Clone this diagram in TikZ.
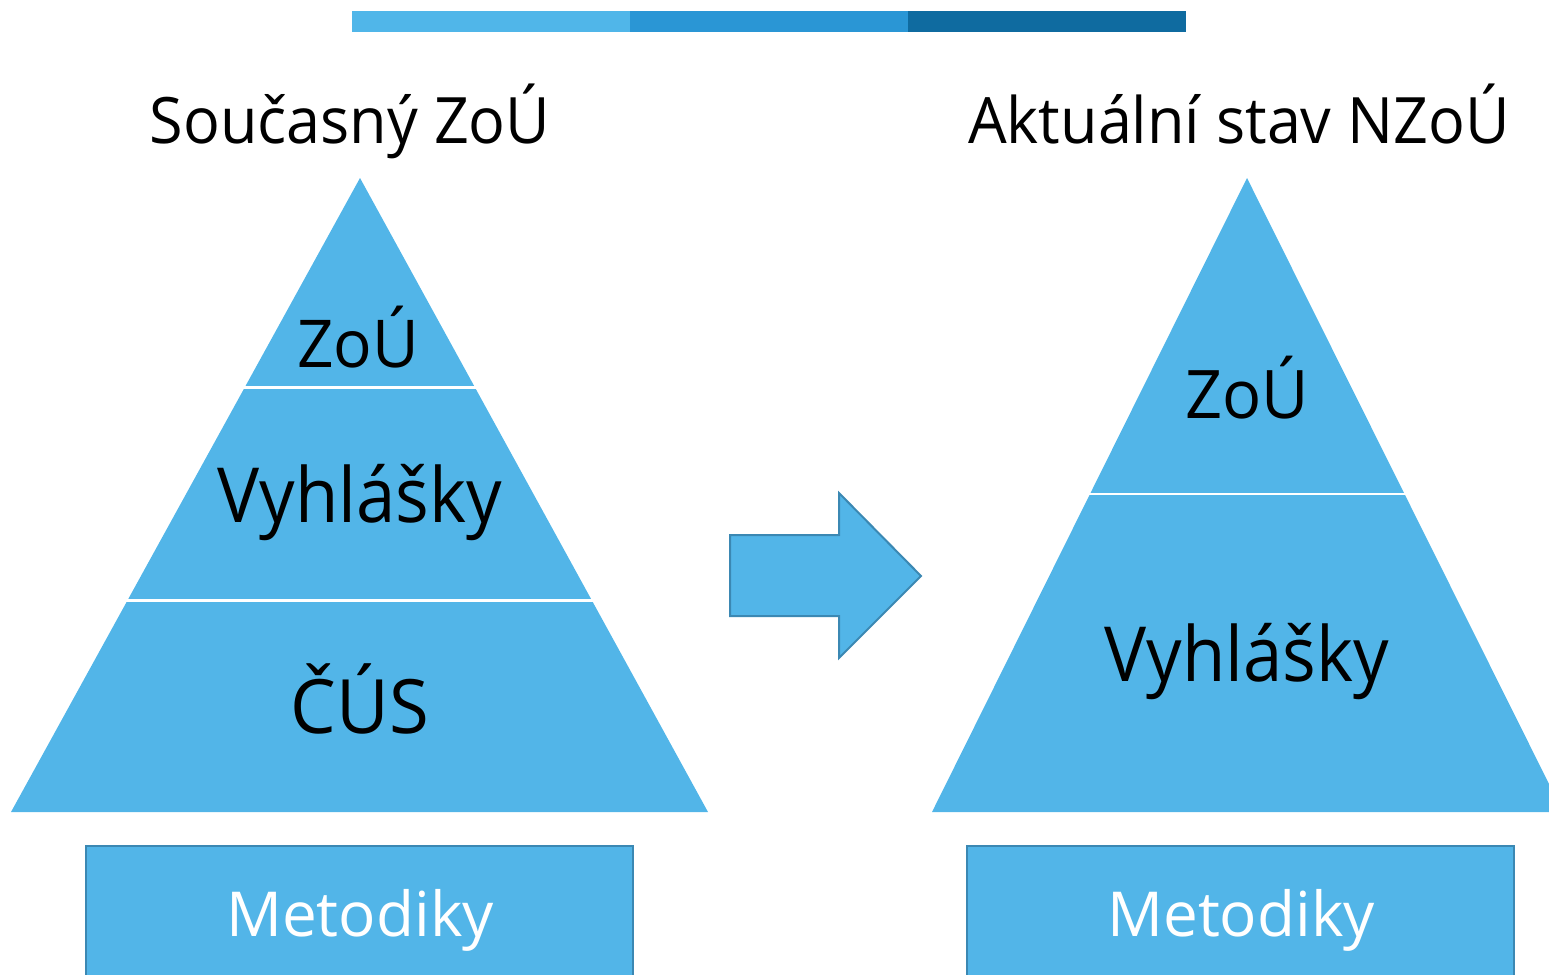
\documentclass[tikz,border=0pt]{standalone}
\usepackage{fontspec}
\setmainfont{Open Sans}
\definecolor{pyr}{HTML}{52B5E8}
\definecolor{barA}{HTML}{50B6E9}
\definecolor{barB}{HTML}{2A96D5}
\definecolor{barC}{HTML}{0F6BA0}
\definecolor{edge}{HTML}{3B88B3}
\tikzset{
  layer/.style={fill=pyr, draw=none},
  gap/.style={draw=white, line width=2.5pt},
  lbl/.style={anchor=base, inner sep=0pt, text=black},
  boxlbl/.style={anchor=base, inner sep=0pt, text=white},
  methbox/.style={fill=pyr, draw=edge, line width=2pt},
  bigarrow/.style={fill=pyr, draw=edge, line width=2pt, line join=miter},
}
\newcommand{\fsz}[1]{\fontsize{#1pt}{#1pt}\selectfont}
\newcommand{\sx}[2]{\scalebox{#1}[1]{#2}}
\begin{document}
\begin{tikzpicture}[x=1pt,y=-1pt]
\useasboundingbox (0,0) rectangle (1549,974);
\clip (0,0) rectangle (1549,974);
% top bar
\fill[barA] (352,11) rectangle (630,32);
\fill[barB] (630,11) rectangle (908,32);
\fill[barC] (908,11) rectangle (1186,32);
% titles
\node[lbl] (t1) at (350,143) {\fsz{64}\sx{0.955}{Současný ZoÚ}};
\node[lbl] (t2) at (1239,143) {\fsz{64}\sx{0.955}{Aktuální stav NZoÚ}};
% left pyramid
\fill[layer] (360,178) -- (708,812) -- (11,812) -- cycle;
\draw[gap] (240,387.5) -- (480,387.5);
\draw[gap] (120,600.5) -- (600,600.5);
\node[lbl] (l1) at (358,367) {\fsz{66}\sx{0.97}{ZoÚ}};
\node[lbl] (l2) at (360,522) {\fsz{76}\sx{0.93}{Vyhlášky}};
\node[lbl] (l3) at (360,733) {\fsz{75}\sx{0.965}{ČÚS}};
% arrow
\draw[bigarrow] (730,535) -- (839,535) -- (839,493) -- (921,576) -- (839,658) -- (839,616) -- (730,616) -- cycle;
% right pyramid
\fill[layer] (1247,178) -- (1563,812) -- (932,812) -- cycle;
\draw[gap] (1080,494) -- (1415,494);
\node[lbl] (r1) at (1247,418) {\fsz{67}\sx{0.97}{ZoÚ}};
\node[lbl] (r2) at (1247,681) {\fsz{76}\sx{0.93}{Vyhlášky}};
% boxes
\draw[methbox] (86,846) rectangle (633,1000);
\draw[methbox] (967,846) rectangle (1514,1000);
\node[boxlbl] (m1) at (360,936) {\fsz{62}Metodiky};
\node[boxlbl] (m2) at (1241,936) {\fsz{62}Metodiky};
\end{tikzpicture}
\end{document}
